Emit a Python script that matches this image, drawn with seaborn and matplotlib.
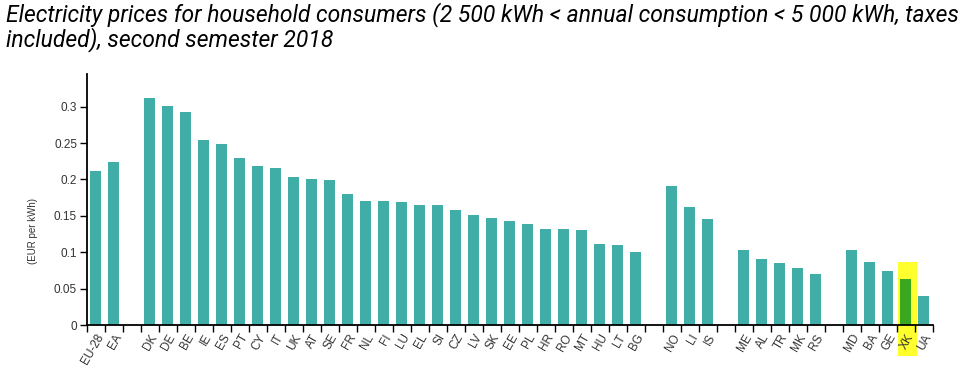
import matplotlib
matplotlib.use("Agg")
import matplotlib.pyplot as plt
import matplotlib.patches as mpatches
import numpy as np
import pandas as pd
import seaborn as sns

# groups separated by empty bands
eu_codes = ["EU-28", "EA"]
eu_values = [0.2116, 0.2244]
member_codes = ["DK", "DE", "BE", "IE", "ES", "PT", "CY", "IT", "UK", "AT", "SE", "FR", "NL", "FI",
                "LU", "EL", "SI", "CZ", "LV", "SK", "EE", "PL", "HR", "RO", "MT", "HU", "LT", "BG"]
member_values = [0.3124, 0.3010, 0.2931, 0.2537, 0.2482, 0.2290, 0.2185, 0.2157, 0.2030, 0.2011,
                 0.1997, 0.1805, 0.1704, 0.1704, 0.1690, 0.1644, 0.1644, 0.1585, 0.1510, 0.1470,
                 0.1424, 0.1392, 0.1319, 0.1319, 0.1305, 0.1113, 0.1100, 0.0999]
efta_codes = ["NO", "LI", "IS"]
efta_values = [0.1910, 0.1617, 0.1456]
candidate_codes = ["ME", "AL", "TR", "MK", "RS"]
candidate_values = [0.1026, 0.0907, 0.0852, 0.0783, 0.0705]
other_codes = ["MD", "BA", "GE", "XK", "UA"]
other_values = [0.1026, 0.0861, 0.0738, 0.0632, 0.0403]

highlight = "XK"
teal = "#41ada7"
green = "#3aa81e"
yellow = "#ffff2e"

groups = [(eu_codes, eu_values), (member_codes, member_values), (efta_codes, efta_values),
          (candidate_codes, candidate_values), (other_codes, other_values)]
rows = []
for g, (codes, vals) in enumerate(groups):
    if g > 0:
        rows.append({"geo": f"_gap{g}", "value": np.nan})
    rows += [{"geo": c, "value": v} for c, v in zip(codes, vals)]
df = pd.DataFrame(rows)
order = list(df["geo"])

sns.set_style("white")
plt.rcParams["font.family"] = ["Liberation Sans", "DejaVu Sans"]

fig = plt.figure(figsize=(9.8, 3.8), dpi=100)
ax = fig.add_axes([0.0885, 0.1447, 0.8632, 0.6606])

sns.barplot(data=df, x="geo", y="value", order=order, color=teal, width=0.63,
            saturation=1, linewidth=0, edgecolor="none", ax=ax, zorder=2)
xi = order.index(highlight)
for bar in list(ax.patches):
    if abs(bar.get_x() + bar.get_width() / 2 - xi) < 0.01:
        bar.set_facecolor(green)

# yellow marker highlight behind the XK bar and label
xk_val = df.loc[df["geo"] == highlight, "value"].iloc[0]
ax.add_patch(mpatches.Rectangle((xi - 0.42, -0.043), 1.05, xk_val + 0.067,
                                facecolor=yellow, edgecolor="none", linewidth=0,
                                clip_on=False, zorder=0))

n = len(order)
ax.set_xlim(-0.5, n - 0.5)
ax.set_ylim(0, 0.345)
ax.set_yticks([0, 0.05, 0.1, 0.15, 0.2, 0.25, 0.3])
ax.set_yticklabels(["0", "0.05", "0.1", "0.15", "0.2", "0.25", "0.3"])

# labels at band centres, tick marks at band edges
ax.set_xticks(range(n))
ax.set_xticklabels(["" if c.startswith("_gap") else c for c in order],
                   rotation=60, ha="right", rotation_mode="anchor")
ax.set_xticks(np.arange(n + 1) - 0.5, minor=True)
ax.tick_params(axis="x", which="major", length=0, pad=5, labelsize=8.5, labelcolor="#333333")
ax.tick_params(axis="x", which="minor", length=5, width=1, color="black", bottom=True)
ax.tick_params(axis="y", length=5, width=1, color="black", left=True, labelsize=8.5,
               labelcolor="#333333", pad=2)
ax.set_xlabel("")
ax.set_ylabel("")

for s in ["top", "right"]:
    ax.spines[s].set_visible(False)
for s in ["left", "bottom"]:
    ax.spines[s].set_color("black")
    ax.spines[s].set_linewidth(1.3)

fig.text(0.034, 1 - 231 / 380, "(EUR per kWh)", rotation=90, ha="center", va="center",
         fontsize=7, color="#333333")

fig.text(0.006, 0.995,
         "Electricity prices for household consumers (2 500 kWh < annual consumption < 5 000 kWh, taxes\n"
         "included), second semester 2018",
         ha="left", va="top", fontsize=16.5, style="italic", family=["Roboto", "DejaVu Sans"],
         color="#000000", linespacing=1.0)

fig.savefig("out.png", dpi=100)
